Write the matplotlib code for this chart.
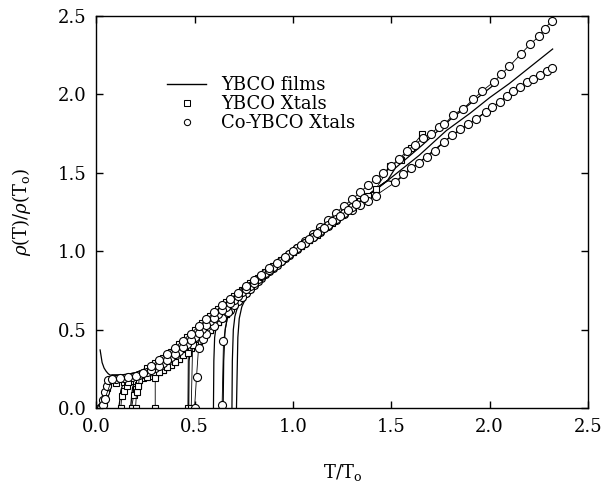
import numpy as np
import matplotlib
matplotlib.use("Agg")
import matplotlib.pyplot as plt
from matplotlib.lines import Line2D

plt.rcParams['font.family'] = ['DejaVu Serif']
plt.rcParams['mathtext.fontset'] = 'dejavuserif'

# ── wspólna siatka T/To i odczytane pasma (góra / środek / dół) ──────────────
T_grid = [0.04, 0.08, 0.12, 0.16, 0.20, 0.24, 0.28, 0.32, 0.36, 0.40, 0.44, 0.48,
          0.52, 0.56, 0.60, 0.64, 0.68, 0.72, 0.76, 0.80, 0.84, 0.88, 0.92, 0.96,
          1.00, 1.04, 1.08, 1.12, 1.16, 1.20, 1.24, 1.28, 1.32, 1.36, 1.40, 1.44, 1.48]
band_hi = [0.26, 0.21, 0.21, 0.215, 0.225, 0.245, 0.27, 0.305, 0.345, 0.385, 0.43, 0.475,
           0.52, 0.565, 0.61, 0.655, 0.695, 0.735, 0.775, 0.815, 0.85, 0.89, 0.925, 0.965,
           1.0, 1.04, 1.075, 1.115, 1.15, 1.19, 1.225, 1.265, 1.30, 1.34, 1.375, 1.415, 1.45]
band_mid = [0.17, 0.185, 0.19, 0.195, 0.205, 0.22, 0.24, 0.27, 0.305, 0.345, 0.39, 0.435,
            0.48, 0.53, 0.575, 0.625, 0.67, 0.715, 0.76, 0.80, 0.84, 0.88, 0.92, 0.96,
            1.0, 1.035, 1.075, 1.11, 1.15, 1.185, 1.225, 1.26, 1.30, 1.335, 1.375, 1.41, 1.45]
band_lo = [0.15, 0.155, 0.16, 0.165, 0.175, 0.19, 0.205, 0.23, 0.26, 0.295, 0.335, 0.38,
           0.425, 0.475, 0.525, 0.575, 0.625, 0.68, 0.735, 0.785, 0.83, 0.875, 0.915, 0.955,
           0.995, 1.035, 1.07, 1.105, 1.145, 1.18, 1.215, 1.25, 1.28, 1.31, 1.335, 1.37, 1.41]

# druga siatka (przesunięta) dla kryształów – punkty pomiarowe między węzłami
T_grid2 = [0.06, 0.10, 0.14, 0.18, 0.22, 0.26, 0.30, 0.34, 0.38, 0.42, 0.46, 0.50,
           0.54, 0.58, 0.62, 0.66, 0.70, 0.74, 0.78, 0.82, 0.86, 0.90, 0.94, 0.98,
           1.02, 1.06, 1.10, 1.14, 1.18, 1.22, 1.26, 1.30, 1.34, 1.38, 1.42]
band2_hi = [0.20, 0.205, 0.21, 0.215, 0.23, 0.255, 0.285, 0.32, 0.36, 0.405, 0.45, 0.495,
            0.54, 0.585, 0.63, 0.675, 0.715, 0.755, 0.795, 0.83, 0.87, 0.905, 0.945, 0.98,
            1.02, 1.06, 1.095, 1.13, 1.17, 1.205, 1.245, 1.28, 1.32, 1.36, 1.40]
band2_mid = [0.18, 0.185, 0.19, 0.20, 0.21, 0.23, 0.255, 0.285, 0.325, 0.365, 0.41, 0.455,
             0.505, 0.555, 0.60, 0.645, 0.69, 0.74, 0.78, 0.82, 0.86, 0.90, 0.94, 0.98,
             1.02, 1.055, 1.09, 1.13, 1.165, 1.205, 1.245, 1.28, 1.32, 1.355, 1.395]
band2_lo = [0.15, 0.16, 0.165, 0.17, 0.18, 0.195, 0.215, 0.245, 0.275, 0.31, 0.355, 0.40,
            0.45, 0.50, 0.55, 0.60, 0.655, 0.71, 0.76, 0.81, 0.855, 0.895, 0.935, 0.975,
            1.015, 1.05, 1.09, 1.125, 1.16, 1.20, 1.235, 1.265, 1.295, 1.32, 1.355]

# ── końcówki wysokotemperaturowe ─────────────────────────────────────────────
tailA_T = [1.52, 1.66, 1.80, 1.92, 2.04]          # film wzdłuż górnych kółek
tailA_r = [1.53, 1.68, 1.84, 1.96, 2.08]
tailB_T = [1.52, 1.64, 1.78, 1.90, 2.00, 2.10, 2.20, 2.32]
tailB_r = [1.49, 1.61, 1.77, 1.88, 1.98, 2.07, 2.17, 2.29]
tailC_T = [1.52, 1.64, 1.80, 1.95, 2.10, 2.20]
tailC_r = [1.44, 1.565, 1.73, 1.86, 2.0, 2.08]

sq_tail_T = [1.443, 1.494, 1.548, 1.60, 1.655]
sq_tail_r = [1.482, 1.541, 1.585, 1.66, 1.745]

co_up_T = [1.02, 1.06, 1.10, 1.14, 1.18, 1.22, 1.26, 1.30, 1.34, 1.38, 1.42, 1.46,
           1.50, 1.54, 1.58, 1.62, 1.66, 1.70, 1.74, 1.77, 1.815, 1.866, 1.917, 1.96,
           2.02, 2.06, 2.10, 2.16, 2.205, 2.25, 2.28, 2.315]
co_up_r = [1.02, 1.065, 1.11, 1.155, 1.20, 1.245, 1.29, 1.33, 1.375, 1.42, 1.46, 1.50,
           1.545, 1.59, 1.64, 1.68, 1.72, 1.75, 1.79, 1.81, 1.87, 1.91, 1.97, 2.02,
           2.08, 2.13, 2.18, 2.26, 2.32, 2.37, 2.42, 2.47]

co_lo_T = [1.52, 1.56, 1.60, 1.64, 1.68, 1.72, 1.77, 1.81, 1.85, 1.89, 1.93, 1.98,
           2.01, 2.05, 2.09, 2.12, 2.155, 2.19, 2.22, 2.255, 2.29, 2.315]
co_lo_r = [1.44, 1.49, 1.53, 1.565, 1.60, 1.64, 1.70, 1.74, 1.78, 1.81, 1.845, 1.89,
           1.92, 1.95, 1.99, 2.02, 2.05, 2.08, 2.10, 2.125, 2.15, 2.17]


def band(vals, t0, t1, grid=T_grid):
    return [(t, r) for t, r in zip(grid, vals) if t0 - 1e-9 <= t <= t1 + 1e-9]


def sample(head, body, tail_T=(), tail_r=()):
    pts = list(head) + list(body) + list(zip(tail_T, tail_r))
    return np.array([p[0] for p in pts]), np.array([p[1] for p in pts])


# ── YBCO films (linie) ───────────────────────────────────────────────────────
films = [
    sample([(0.02, 0.37), (0.025, 0.33), (0.03, 0.29), (0.04, 0.255), (0.05, 0.235),
            (0.06, 0.22), (0.07, 0.21)], band(band_hi, 0.08, 1.48), tailB_T, tailB_r),
    sample([(0.045, 0.0), (0.048, 0.06), (0.052, 0.12), (0.06, 0.155), (0.07, 0.17)],
           band(band_mid, 0.08, 1.48), tailC_T, tailC_r),
    sample([(0.04, 0.0), (0.045, 0.08), (0.05, 0.14), (0.06, 0.165)],
           band(band_hi, 0.08, 1.48), tailA_T, tailA_r),
    sample([(0.115, 0.0), (0.12, 0.05), (0.125, 0.11), (0.135, 0.15), (0.15, 0.17)],
           band(band_mid, 0.16, 1.2)),
    sample([(0.175, 0.0), (0.18, 0.07), (0.185, 0.13), (0.195, 0.17)],
           band(band_lo, 0.20, 1.2)),
    sample([(0.47, 0.0), (0.472, 0.3), (0.48, 0.38)], band(band_mid, 0.52, 1.2)),
    sample([(0.596, 0.0), (0.598, 0.3), (0.602, 0.45), (0.61, 0.52), (0.63, 0.575)],
           band(band_hi, 0.64, 1.48)),
    sample([(0.645, 0.0), (0.648, 0.3), (0.655, 0.5), (0.672, 0.61)],
           band(band_mid, 0.72, 1.3)),
    sample([(0.69, 0.0), (0.692, 0.3), (0.697, 0.5), (0.705, 0.585), (0.72, 0.65),
            (0.74, 0.69)], band(band_hi, 0.76, 1.3)),
    sample([(0.713, 0.0), (0.716, 0.2), (0.72, 0.45), (0.727, 0.57), (0.74, 0.645),
            (0.76, 0.70)], band(band_mid, 0.80, 1.3)),
]

# ── YBCO Xtals (kwadraty) ────────────────────────────────────────────────────
xtals = [
    sample([(0.03, 0.0), (0.04, 0.03), (0.047, 0.09), (0.055, 0.13)],
           band(band2_lo, 0.06, 1.0, T_grid2)),
    sample([(0.125, 0.0), (0.13, 0.075), (0.14, 0.11), (0.155, 0.14)],
           band(band_lo, 0.16, 1.2)),
    sample([(0.18, 0.0), (0.19, 0.08), (0.20, 0.12), (0.215, 0.145)],
           band(band2_lo, 0.22, 1.0, T_grid2)),
    sample([(0.20, 0.0), (0.205, 0.10), (0.215, 0.14)],
           band(band2_mid, 0.22, 1.42, T_grid2), sq_tail_T[1:], sq_tail_r[1:]),
    sample([(0.30, 0.0), (0.30, 0.19)], band(band_lo, 0.32, 1.1)),
    sample([(0.466, 0.0), (0.468, 0.35)], band(band2_lo, 0.50, 1.26, T_grid2)),
    sample([(0.483, 0.0), (0.49, 0.40)], band(band_mid, 0.52, 1.0)),
    sample([], band(band2_hi, 0.26, 1.34, T_grid2)),
]

# ── Co-YBCO Xtals (kółka) ────────────────────────────────────────────────────
coxtals = [
    sample([(0.50, 0.0), (0.51, 0.20), (0.52, 0.38), (0.545, 0.44)],
           band(band_lo, 0.56, 0.96), co_up_T, co_up_r),
    sample([(0.64, 0.02), (0.647, 0.43), (0.672, 0.61)],
           band(band2_lo, 0.70, 1.42, T_grid2), co_lo_T, co_lo_r),
    sample([(0.02, 0.0), (0.03, 0.01), (0.035, 0.05), (0.045, 0.10), (0.055, 0.14)],
           band(band2_mid, 0.06, 1.3, T_grid2)),
    sample([(0.025, 0.0), (0.035, 0.02), (0.045, 0.06)],
           band(band_mid, 0.08, 0.9)),
    sample([], band(band_hi, 0.28, 1.36)),
]

fig = plt.figure(figsize=(6.05, 4.88), dpi=100)
ax = fig.add_axes([0.159, 0.164, 0.813, 0.803])

for t, r in films:
    ax.plot(t, r, color='black', lw=0.9)
for t, r in xtals:
    ax.plot(t, r, color='black', lw=0.6, marker='s', ms=4.8, mfc='white', mew=0.8)
for t, r in coxtals:
    ax.plot(t, r, color='black', lw=0.6, marker='o', ms=5.8, mfc='white', mew=0.8)

ax.set_xlim(0, 2.5)
ax.set_ylim(0, 2.5)
ax.set_xticks([0.0, 0.5, 1.0, 1.5, 2.0, 2.5])
ax.set_yticks([0.0, 0.5, 1.0, 1.5, 2.0, 2.5])
ax.xaxis.set_major_formatter(matplotlib.ticker.FormatStrFormatter('%.1f'))
ax.yaxis.set_major_formatter(matplotlib.ticker.FormatStrFormatter('%.1f'))
ax.tick_params(direction='in', length=5, width=1, top=True, right=True,
               labelsize=13, pad=7)
for s in ax.spines.values():
    s.set_linewidth(1.0)

ax.set_xlabel(r'T/T$_\mathrm{o}$', fontsize=13, labelpad=19)
ax.set_ylabel(r'$\rho$(T)/$\rho$(T$_\mathrm{o}$)', fontsize=13, labelpad=18)

handles = [
    Line2D([], [], color='black', lw=1.0),
    Line2D([], [], color='black', ls='none', marker='s', ms=4, mfc='white', mew=0.75),
    Line2D([], [], color='black', ls='none', marker='o', ms=4.5, mfc='white', mew=0.75),
]
ax.legend(handles, ['YBCO films', 'YBCO Xtals', 'Co-YBCO Xtals'],
          loc='upper left', bbox_to_anchor=(0.125, 0.87), frameon=False, fontsize=13,
          handlelength=2.2, handletextpad=0.8, labelspacing=0.05, borderpad=0)

fig.savefig('out.png', dpi=100)
